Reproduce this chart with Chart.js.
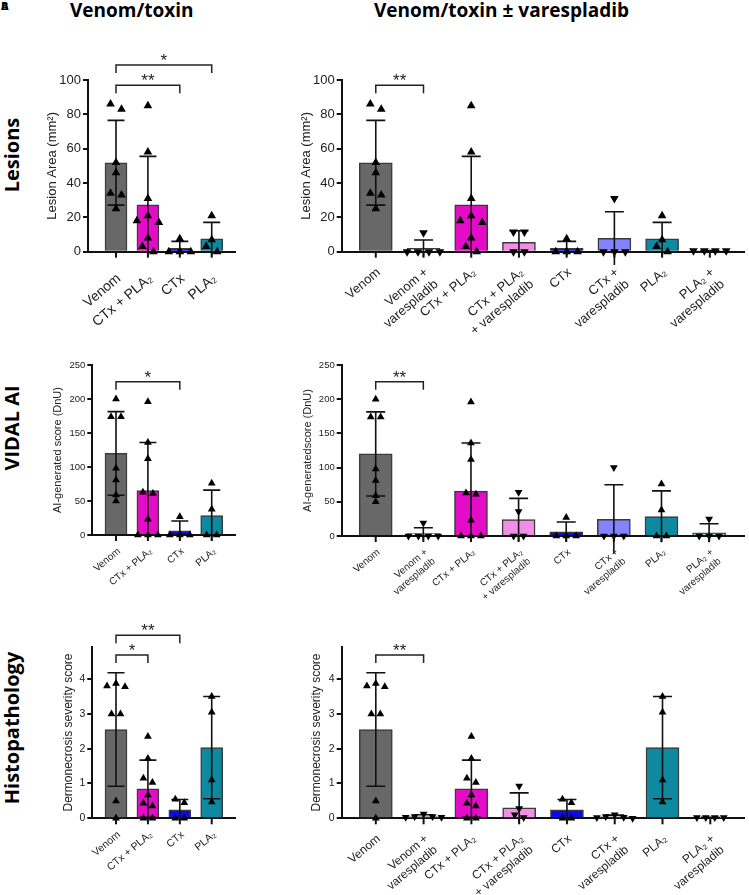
<!DOCTYPE html>
<html lang="en">
<head>
<meta charset="UTF-8">
<meta name="viewport" content="width=device-width, initial-scale=1.0">
<title>Venom/toxin ± varespladib</title>
<script src="https://cdn.jsdelivr.net/npm/chart.js"></script>
<style>
   body { margin: 0; background: #fff; }
   #page { position: relative; width: 749px; height: 895px; overflow: hidden; }
   canvas { position: absolute; }
   /* column titles */
   .coltitle { position: absolute; top: -3px; font-family: 'Open Sans', sans-serif; font-weight: 700; font-size: 19px; color: #000; white-space: nowrap; }
   /* row titles, rotated */
   .rowtitle { position: absolute; left: 11px; font-family: 'Open Sans', sans-serif; font-weight: 700; font-size: 20px; color: #000; white-space: nowrap; transform: translate(-50%, -50%) rotate(-90deg); }
   .letter { position: absolute; left: 1px; top: -2px; font-family: 'Open Sans', sans-serif; font-weight: 700; font-size: 11px; }
</style>
</head>
<body>
<div id="page">
   <span class="letter">A</span><span class="letter">B</span>
   <div class="coltitle" style="left:70px">Venom/toxin</div>
   <div class="coltitle" style="left:374px">Venom/toxin ± varespladib</div>
   <div class="rowtitle" style="top:155px">Lesions</div>
   <div class="rowtitle" style="top:428px">VIDAL AI</div>
   <div class="rowtitle" style="top:728px">Histopathology</div>

   <canvas id="lesionLeft"></canvas>
   <canvas id="lesionRight"></canvas>
   <canvas id="aiLeft"></canvas>
   <canvas id="aiRight"></canvas>
   <canvas id="histLeft"></canvas>
   <canvas id="histRight"></canvas>
</div>

<script>
   // ---- data ----
   // groups: Venom, Venom+V, CTx+PLA2, CTx+PLA2+V, CTx, CTx+V, PLA2, PLA2+V
   var labelsLeft = ['Venom', 'CTx + PLA₂', 'CTx', 'PLA₂'];
   var labelsRight = ['Venom', ['Venom +', 'varespladib'], 'CTx + PLA₂', ['CTx + PLA₂', '+ varespladib'],
      'CTx', ['CTx +', 'varespladib'], 'PLA₂', ['PLA₂ +', 'varespladib']];
   var groupsLeft = [0, 2, 4, 6];
   var groupsRight = [0, 1, 2, 3, 4, 5, 6, 7];
   var varespladib = [false, true, false, true, false, true, false, true];

   var lesionMean = [51.8, 1.9, 27.3, 5.4, 1.9, 7.8, 7.5, 0.5];
   var lesionSd = [24.7, 4.9, 28.2, 6.8, 4.1, 15.5, 9.6, 0.2];
   var lesionPts = [
      [86, 83, 52, 46, 34, 33, 25],
      [11, 0, 0, 0, 0],
      [85, 58, 31, 21, 18, 17, 8, 3, 0],
      [11.5, 11.5, 0, 0],
      [7.5, 0, 0, 0],
      [31, 0, 0, 0],
      [21, 7, 3, 0],
      [0.5, 0.5, 0.5, 0.5]
   ];
   var lesionTicks = [0, 20, 40, 60, 80, 100];

   var aiMean = [120, 3.5, 65.5, 24, 6, 24.5, 28.5, 4.5];
   var aiSd = [61.5, 8.5, 70.5, 31, 14.5, 50.5, 37.5, 13.5];
   var aiPts = [
      [200, 174, 174, 98, 81, 59, 50],
      [19, 0, 0, 0, 0],
      [196, 136, 112, 63, 61, 23, 0, 0, 0],
      [64, 36, 0, 0],
      [27, 0, 0, 0],
      [100, 0, 0, 0],
      [76, 38, 0, 0],
      [25, 0, 0, 0]
   ];
   var aiTicks = [0, 50, 100, 150, 200, 250];

   var histMean = [2.55, 0.05, 0.85, 0.3, 0.24, 0.04, 2.03, 0.02];
   var histSd = [1.63, 0.05, 0.82, 0.43, 0.3, 0.05, 1.47, 0.01];
   var histPts = [
      [3.87, 3.8, 3.78, 3.0, 3.0, 0.5, 0],
      [0.12, 0.05, 0.05, 0.03, 0.03],
      [2.35, 1.72, 1.15, 1.03, 0.67, 0.43, 0.35, 0, 0],
      [0.93, 0.28, 0.1, 0.02],
      [0.55, 0.45, 0, 0],
      [0.1, 0.05, 0.03, 0.02, 0],
      [3.5, 3.05, 1.1, 0.47],
      [0.02, 0.02, 0.02, 0.02]
   ];
   var histTicks = [0, 1, 2, 3, 4];

   // significance brackets: group index from/to (within the panel), height in data units
   var lesionBracketsLeft = [{ from: 0, to: 2, at: 97, label: '**' }, { from: 0, to: 3, at: 108.7, label: '*' }];
   var lesionBracketsRight = [{ from: 0, to: 1, at: 97, label: '**' }];
   var aiBracketsLeft = [{ from: 0, to: 2, at: 225.4, label: '*' }];
   var aiBracketsRight = [{ from: 0, to: 1, at: 225.6, label: '**' }];
   var histBracketsLeft = [{ from: 0, to: 2, at: 5.26, label: '**' }, { from: 0, to: 1, at: 4.69, label: '*' }];
   var histBracketsRight = [{ from: 0, to: 1, at: 4.69, label: '**' }];

   // ---- styles ----
   var barColors = ['#686868', '#f2f2f2', '#e40cc6', '#f28ee6', '#0a0aee', '#8383ff', '#0f89a0', '#8edfec'];
   var FONT = "'Liberation Sans', Arial, sans-serif";
   Chart.defaults.font.family = FONT;
   Chart.defaults.color = '#222';

   // spread points that sit at nearly the same height side by side (like a scatter dot plot)
   function spreadPoints(values, pxPerUnit, gap) {
      var sorted = values.slice().sort(function (a, b) { return b - a; });
      var out = [];
      var cluster = [sorted[0]];
      for (var i = 1; i <= sorted.length; i++) {
         if (i < sorted.length && (cluster[cluster.length - 1] - sorted[i]) * pxPerUnit < 5.8) {
            cluster.push(sorted[i]);
            continue;
         }
         var n = cluster.length;
         cluster.forEach(function (v, k) {
            var off;
            if (n % 2) off = k === 0 ? 0 : (k % 2 ? -1 : 1) * Math.ceil(k / 2);
            else off = (k % 2 ? 1 : -1) * (Math.floor(k / 2) + 0.5);
            out.push({ v: v, off: off * gap });
         });
         if (i < sorted.length) cluster = [sorted[i]];
      }
      return out;
   }

   var errorBars = {
      id: 'errorBars',
      afterDatasetDraw: function (chart, args, o) {
         if (args.index !== 0) return;
         var ctx = chart.ctx, sx = chart.scales.x, sy = chart.scales.y;
         ctx.save();
         ctx.strokeStyle = '#111';
         ctx.lineWidth = 1.6;
         o.mean.forEach(function (m, i) {
            var x = sx.getPixelForValue(i);
            var yTop = sy.getPixelForValue(m + o.sd[i]);
            var yBot = sy.getPixelForValue(m - o.sd[i]);
            ctx.beginPath();
            ctx.moveTo(x, yBot); ctx.lineTo(x, yTop);
            ctx.moveTo(x - o.cap / 2, yTop); ctx.lineTo(x + o.cap / 2, yTop);
            if (m - o.sd[i] > 0) { ctx.moveTo(x - o.cap / 2, yBot); ctx.lineTo(x + o.cap / 2, yBot); }
            ctx.stroke();
         });
         ctx.restore();
      }
   };

   // tick marks and slanted category labels under the x axis
   var xLabels = {
      id: 'xLabels',
      afterDraw: function (chart, args, o) {
         var ctx = chart.ctx, sx = chart.scales.x, y0 = chart.chartArea.bottom;
         ctx.save();
         ctx.strokeStyle = '#111'; ctx.lineWidth = 2;
         ctx.fillStyle = '#222';
         ctx.font = o.size + 'px ' + FONT;
         ctx.textAlign = 'right'; ctx.textBaseline = 'middle';
         o.labels.forEach(function (lab, i) {
            var x = sx.getPixelForValue(i);
            ctx.beginPath(); ctx.moveTo(x, y0); ctx.lineTo(x, y0 + 6); ctx.stroke();
            var lines = Array.isArray(lab) ? lab : [lab];
            ctx.save();
            ctx.translate(x + 3, y0 + o.drop);
            ctx.rotate(-40 * Math.PI / 180);
            lines.forEach(function (t, k) { ctx.fillText(t, 0, k * o.size * 1.2); });
            ctx.restore();
         });
         ctx.restore();
      }
   };

   var brackets = {
      id: 'brackets',
      afterDraw: function (chart, args, o) {
         var ctx = chart.ctx, sx = chart.scales.x, sy = chart.scales.y;
         ctx.save();
         ctx.strokeStyle = '#222'; ctx.fillStyle = '#222'; ctx.lineWidth = 1.5;
         ctx.font = '17px ' + FONT; ctx.textAlign = 'center'; ctx.textBaseline = 'alphabetic';
         o.list.forEach(function (b) {
            var x1 = sx.getPixelForValue(b.from), x2 = sx.getPixelForValue(b.to), y = sy.getPixelForValue(b.at);
            ctx.beginPath();
            ctx.moveTo(x1, y + 8); ctx.lineTo(x1, y); ctx.lineTo(x2, y); ctx.lineTo(x2, y + 8);
            ctx.stroke();
            ctx.fillText(b.label, (x1 + x2) / 2, y + 1);
         });
         ctx.restore();
      }
   };

   function drawPanel(id, p) {
      var cv = document.getElementById(id);
      cv.width = p.box[2]; cv.height = p.box[3];
      cv.style.left = p.box[0] + 'px'; cv.style.top = p.box[1] + 'px';
      var pxX = (p.area[1] - p.area[0]) / (p.xr[1] - p.xr[0]);
      var pxY = (p.area[3] - p.area[2]) / (p.yr[1] - p.yr[0]);

      var bars = [], cols = [], pts = [], means = [], sds = [];
      p.groups.forEach(function (g, i) {
         bars.push({ x: i, y: p.mean[g] });
         means.push(p.mean[g]); sds.push(p.sd[g]);
         cols.push(barColors[g]);
         spreadPoints(p.points[g], pxY, p.gap).forEach(function (q) {
            pts.push({ x: i + q.off / pxX, y: q.v, inv: varespladib[g] });
         });
      });

      new Chart(cv, {
         type: 'bar',
         data: {
            datasets: [
               {
                  type: 'bar', data: bars, backgroundColor: cols, borderColor: '#3a3a3a',
                  borderWidth: 1.5, barThickness: p.barW, order: 1
               },
               {
                  type: 'scatter', data: pts, pointStyle: 'triangle', pointRadius: p.r,
                  pointBackgroundColor: '#000', pointBorderColor: '#000', pointBorderWidth: 0,
                  pointRotation: function (c) { return c.raw && c.raw.inv ? 180 : 0; },
                  clip: false, order: 0
               }
            ]
         },
         options: {
            responsive: false,
            animation: false,
            devicePixelRatio: 1,
            layout: { padding: { left: 0, bottom: 0, top: p.area[2] - p.box[1], right: p.box[0] + p.box[2] - p.area[1] } },
            plugins: {
               legend: { display: false },
               tooltip: { enabled: false },
               errorBars: { mean: means, sd: sds, cap: p.cap },
               brackets: { list: p.brackets },
               xLabels: { labels: p.labels, size: p.xFont, drop: p.xDrop }
            },
            scales: {
               x: {
                  type: 'linear', min: p.xr[0], max: p.xr[1], offset: false,
                  afterFit: function (s) { s.height = p.box[1] + p.box[3] - p.area[3]; },
                  ticks: { display: false },
                  grid: { display: false },
                  border: { display: true, color: '#111', width: 2 }
               },
               y: {
                  min: p.yr[0], max: p.yr[1],
                  afterBuildTicks: function (s) { s.ticks = p.yTicks.map(function (v) { return { value: v }; }); },
                  afterFit: function (s) { s.width = p.area[0] - p.box[0]; },
                  ticks: { font: { size: p.yFont }, color: '#222', padding: 2 },
                  grid: { display: true, drawOnChartArea: false, tickLength: 5, color: '#111', lineWidth: 2 },
                  border: { display: true, color: '#111', width: 2 },
                  title: {
                     display: true, text: p.title, color: '#222', font: { size: p.titleFont },
                     padding: { top: p.titleX - p.box[0] - p.titleFont * 0.6, bottom: 0 }
                  }
               }
            }
         },
         plugins: [errorBars, brackets, xLabels]
      });
   }

   // ---- panels ----
   drawPanel('lesionLeft', {
      box: [40, 40, 205, 300], area: [88, 235, 80, 251.7], xr: [-0.878, 3.73], yr: [0, 100], yTicks: lesionTicks,
      groups: groupsLeft, labels: labelsLeft, mean: lesionMean, sd: lesionSd, points: lesionPts, brackets: lesionBracketsLeft,
      barW: 22, cap: 17, gap: 11, r: 5, xFont: 14, xDrop: 25, yFont: 13, title: 'Lesion Area (mm²)', titleFont: 13, titleX: 52
   });
   drawPanel('lesionRight', {
      box: [290, 40, 459, 300], area: [341.7, 746.7, 80, 251.7], xr: [-0.714, 7.716], yr: [0, 100], yTicks: lesionTicks,
      groups: groupsRight, labels: labelsRight, mean: lesionMean, sd: lesionSd, points: lesionPts, brackets: lesionBracketsRight,
      barW: 33, cap: 19, gap: 11, r: 5, xFont: 13, xDrop: 19, yFont: 13, title: 'Lesion Area (mm²)', titleFont: 13, titleX: 306
   });
   drawPanel('aiLeft', {
      box: [40, 340, 205, 262], area: [92.3, 235, 365, 535], xr: [-0.743, 3.73], yr: [0, 250], yTicks: aiTicks,
      groups: groupsLeft, labels: labelsLeft, mean: aiMean, sd: aiSd, points: aiPts, brackets: aiBracketsLeft,
      barW: 22, cap: 17, gap: 10, r: 4.5, xFont: 10, xDrop: 15, yFont: 9.5, title: 'AI-generated score (DnU)', titleFont: 11, titleX: 58
   });
   drawPanel('aiRight', {
      box: [290, 340, 459, 262], area: [341.7, 748, 365, 536], xr: [-0.714, 7.743], yr: [0, 250], yTicks: aiTicks,
      groups: groupsRight, labels: labelsRight, mean: aiMean, sd: aiSd, points: aiPts, brackets: aiBracketsRight,
      barW: 33, cap: 19, gap: 10, r: 4.5, xFont: 10, xDrop: 15, yFont: 9.5, title: 'AI-generatedscore (DnU)', titleFont: 11, titleX: 308
   });
   drawPanel('histLeft', {
      box: [40, 602, 205, 293], area: [92.3, 235, 646.7, 818.3], xr: [-0.743, 3.73], yr: [0, 4.93], yTicks: histTicks,
      groups: groupsLeft, labels: labelsLeft, mean: histMean, sd: histSd, points: histPts, brackets: histBracketsLeft,
      barW: 22, cap: 17, gap: 9, r: 4.5, xFont: 10.5, xDrop: 15, yFont: 10.5, title: 'Dermonecrosis severity score', titleFont: 12, titleX: 69
   });
   drawPanel('histRight', {
      box: [290, 602, 459, 293], area: [341.7, 746.7, 646.7, 818.3], xr: [-0.714, 7.716], yr: [0, 4.93], yTicks: histTicks,
      groups: groupsRight, labels: labelsRight, mean: histMean, sd: histSd, points: histPts, brackets: histBracketsRight,
      barW: 33, cap: 19, gap: 9, r: 4.5, xFont: 12, xDrop: 19, yFont: 10.5, title: 'Dermonecrosis severity score', titleFont: 12, titleX: 317
   });
</script>
</body>
</html>
